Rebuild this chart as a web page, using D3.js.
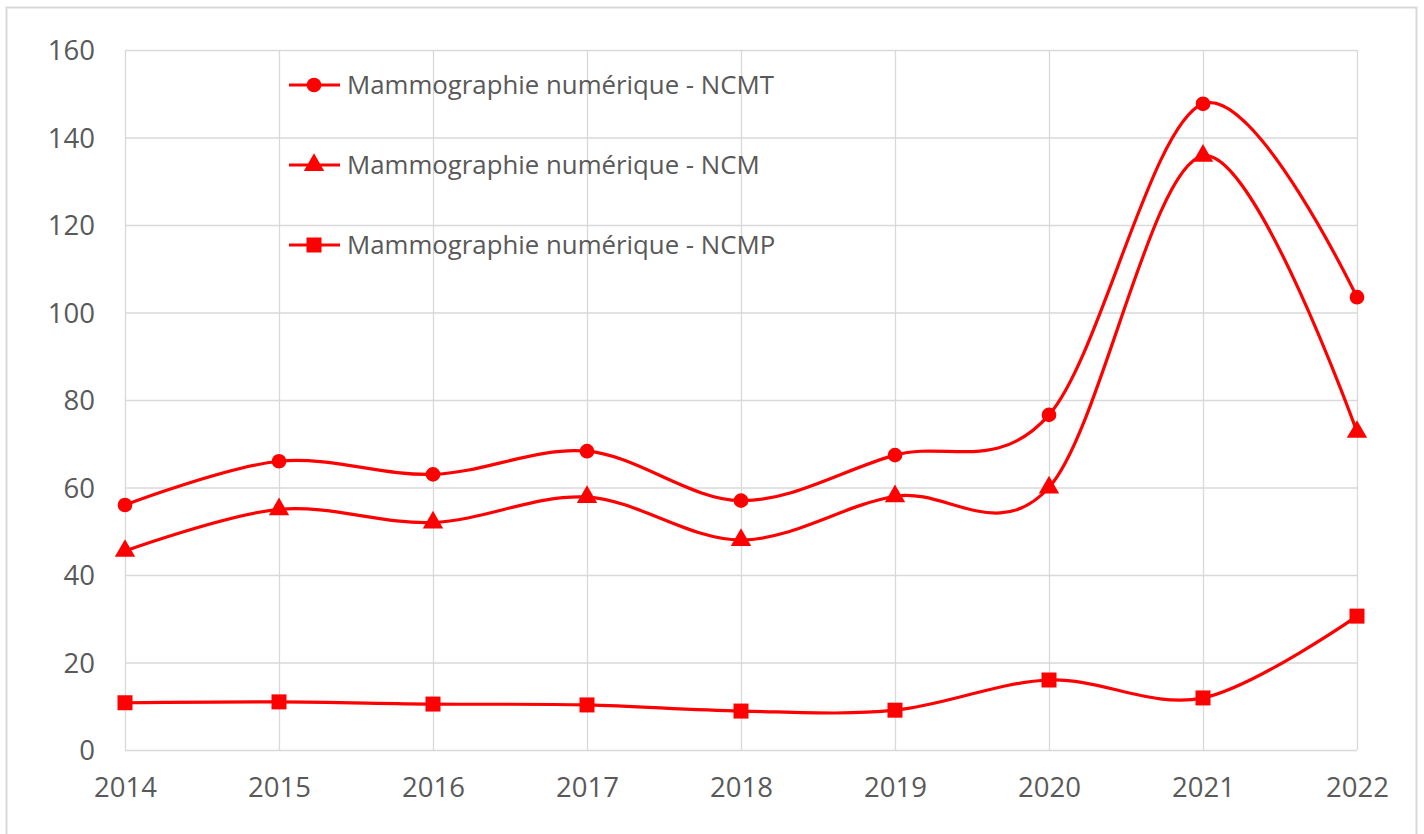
<!DOCTYPE html>
<html><head><meta charset="utf-8">
<script src="https://cdn.jsdelivr.net/npm/d3@7"></script>
<style>body{margin:0;background:#fff}svg{display:block}</style>
</head><body>
<script>
const years = ["2014","2015","2016","2017","2018","2019","2020","2021","2022"];
const seriesNames = ["Mammographie numérique - NCMT","Mammographie numérique - NCM","Mammographie numérique - NCMP"];
const ncmt = [56, 66, 63, 68.3, 57, 67.4, 76.6, 147.7, 103.5];
const ncm  = [45.5, 55, 52, 57.8, 48, 58, 60, 135.8, 72.7];
const ncmp = [10.8, 11, 10.5, 10.3, 8.9, 9.1, 16, 11.9, 30.6];
const yTicks = [0,20,40,60,80,100,120,140,160];
const symbols = [d3.symbolCircle, d3.symbolTriangle, d3.symbolSquare];

const W=1424,H=834;
const svg=d3.select("body").append("svg").attr("width",W).attr("height",H);
svg.append("rect").attr("x",6.5).attr("y",7.5).attr("width",1410).attr("height",840)
  .attr("fill","none").attr("stroke","#d9d9d9").attr("stroke-width",2);

const x=d3.scalePoint().domain(years).range([125,1357]);
const y=d3.scaleLinear().domain([0,160]).range([750,50]);
const font="'Open Sans', sans-serif", col="#595959";

const g=svg.append("g");
g.selectAll(".hg").data(yTicks).join("line")
  .attr("x1",125).attr("x2",1357).attr("y1",d=>y(d)+0.5).attr("y2",d=>y(d)+0.5)
  .attr("stroke","#d9d9d9").attr("stroke-width",1.3);
g.selectAll(".vg").data(years).join("line")
  .attr("x1",d=>x(d)+0.5).attr("x2",d=>x(d)+0.5).attr("y1",50).attr("y2",750)
  .attr("stroke","#d9d9d9").attr("stroke-width",1.3);

const yAxis=svg.append("g").attr("transform","translate(125,0)")
  .call(d3.axisLeft(y).tickValues(yTicks).tickSize(0).tickPadding(30));
yAxis.select(".domain").remove();
yAxis.selectAll("text").attr("font-family",font).attr("font-size",27.5).attr("fill",col).attr("dy","0.35em");
const xAxis=svg.append("g").attr("transform","translate(0,750)")
  .call(d3.axisBottom(x).tickSize(0).tickPadding(28));
xAxis.select(".domain").remove();
xAxis.selectAll("text").attr("font-family",font).attr("font-size",27.5).attr("fill",col).attr("dy","0.68em");

const data=[ncmt,ncm,ncmp];
const line=d3.line().x((d,i)=>x(years[i])).y(d=>y(d)).curve(d3.curveCardinal.tension(0));
const sizes=[170,180,225];
data.forEach((s,k)=>{
  svg.append("path").datum(s).attr("d",line).attr("fill","none").attr("stroke","#ff0000").attr("stroke-width",3.2);
  svg.selectAll(".m"+k).data(s).join("path")
    .attr("transform",(d,i)=>`translate(${x(years[i])},${y(d)})`)
    .attr("d",d3.symbol().type(symbols[k]).size(sizes[k])).attr("fill","#ff0000");
});

const leg=svg.append("g");
const legY=[85,165,245];
seriesNames.forEach((n,k)=>{
  const gg=leg.append("g").attr("transform",`translate(0,${legY[k]})`);
  gg.append("line").attr("x1",289).attr("x2",340).attr("y1",0).attr("y2",0).attr("stroke","#ff0000").attr("stroke-width",3.2);
  gg.append("path").attr("transform","translate(314,0)").attr("d",d3.symbol().type(symbols[k]).size(sizes[k])).attr("fill","#ff0000");
  gg.append("text").attr("x",347).attr("y",0).attr("dy","0.35em").text(n)
    .attr("font-family",font).attr("font-size",25.8).attr("fill",col);
});
</script>
</body></html>
